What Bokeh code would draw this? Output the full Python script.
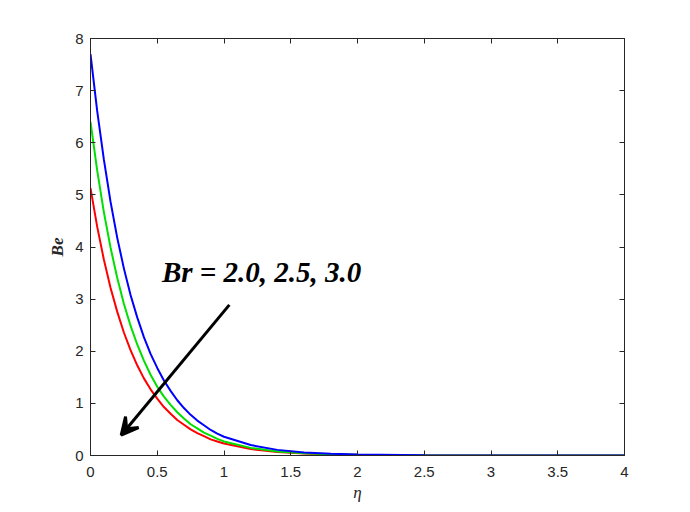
from bokeh.plotting import figure
from bokeh.models import Range1d, LinearAxis, FixedTicker, Arrow, VeeHead, Label
from bokeh.embed import file_html
from bokeh.resources import INLINE

# eta grid and Bejan number curves
eta = [0, 0.05, 0.1, 0.15, 0.2, 0.25, 0.3, 0.35, 0.4, 0.45, 0.5, 0.55, 0.6, 0.65,
       0.7, 0.75, 0.8, 0.85, 0.9, 0.95, 1.0, 1.2, 1.4, 1.6, 1.8, 2.0, 2.5, 3.0, 3.5, 4.0]
be_br20 = [5.13, 4.39, 3.76, 3.22, 2.76, 2.36, 2.02, 1.73, 1.48, 1.27, 1.09, 0.93, 0.80, 0.68,
           0.59, 0.50, 0.43, 0.37, 0.31, 0.27, 0.23, 0.124, 0.067, 0.036, 0.019, 0.010, 0.002, 0.0005, 0.0001, 0.0]
be_br25 = [6.40, 5.47, 4.67, 3.99, 3.41, 2.91, 2.49, 2.13, 1.82, 1.55, 1.32, 1.13, 0.97, 0.83,
           0.71, 0.60, 0.52, 0.44, 0.38, 0.32, 0.27, 0.146, 0.078, 0.041, 0.022, 0.012, 0.0025, 0.0005, 0.0001, 0.0]
be_br30 = [7.70, 6.61, 5.68, 4.87, 4.18, 3.59, 3.08, 2.65, 2.27, 1.95, 1.68, 1.44, 1.24, 1.06,
           0.91, 0.78, 0.67, 0.58, 0.49, 0.42, 0.36, 0.20, 0.108, 0.059, 0.032, 0.017, 0.004, 0.001, 0.0003, 0.0001]

x_ticks = [0, 0.5, 1, 1.5, 2, 2.5, 3, 3.5, 4]
x_tick_labels = ["0", "0.5", "1", "1.5", "2", "2.5", "3", "3.5", "4"]
y_ticks = [0, 1, 2, 3, 4, 5, 6, 7, 8]

annotation = "Br = 2.0, 2.5, 3.0"
arrow_from = (1.04, 2.89)
arrow_to = (0.23, 0.39)

axis_color = "#262626"

p = figure(width=682, height=504, output_backend="svg", toolbar_location=None,
           x_range=Range1d(0, 4), y_range=Range1d(0, 8))
p.min_border_left = 90
p.min_border_right = 58
p.min_border_top = 38
p.min_border_bottom = 49
p.background_fill_color = "white"
p.border_fill_color = "white"
p.xgrid.visible = False
p.ygrid.visible = False
p.outline_line_color = axis_color
p.outline_line_width = 1

# curves
p.line(eta, be_br20, line_color="#ff0000", line_width=2)
p.line(eta, be_br25, line_color="#00e000", line_width=2)
p.line(eta, be_br30, line_color="#0000ff", line_width=2)

# axes, matlab style (ticks inside)
def style_axis(ax, ticks, show_labels):
    ax.ticker = FixedTicker(ticks=ticks)
    ax.minor_tick_line_color = None
    ax.major_tick_in = 5
    ax.major_tick_out = 0
    ax.axis_line_color = axis_color
    ax.major_tick_line_color = axis_color
    ax.major_label_text_color = axis_color
    ax.major_label_text_font = "Liberation Sans"
    ax.major_label_text_font_size = "15px"
    if not show_labels:
        ax.major_label_text_color = None
        ax.major_label_text_font_size = "0px"
        ax.major_label_standoff = 0

style_axis(p.xaxis[0], x_ticks, True)
style_axis(p.yaxis[0], y_ticks, True)
p.xaxis[0].major_label_overrides = {t: s for t, s in zip(x_ticks, x_tick_labels)}
p.xaxis[0].major_label_standoff = 11
p.yaxis[0].major_label_standoff = 7

p.xaxis[0].axis_label = "η"
p.xaxis[0].axis_label_text_font = "Liberation Serif"
p.xaxis[0].axis_label_text_font_style = "italic"
p.xaxis[0].axis_label_text_font_size = "17px"
p.xaxis[0].axis_label_text_color = axis_color
p.xaxis[0].axis_label_standoff = 3

p.yaxis[0].axis_label = "Be"
p.yaxis[0].axis_label_text_font = "Liberation Serif"
p.yaxis[0].axis_label_text_font_style = "bold italic"
p.yaxis[0].axis_label_text_font_size = "17px"
p.yaxis[0].axis_label_text_color = axis_color
p.yaxis[0].axis_label_standoff = 5

top_axis = LinearAxis()
style_axis(top_axis, x_ticks, False)
p.add_layout(top_axis, "above")
right_axis = LinearAxis()
style_axis(right_axis, y_ticks, False)
p.add_layout(right_axis, "right")

# annotation arrow and text
p.add_layout(Arrow(end=VeeHead(size=17, line_color="black", line_width=3, fill_color="black"),
                   x_start=arrow_from[0], y_start=arrow_from[1],
                   x_end=arrow_to[0], y_end=arrow_to[1],
                   line_color="black", line_width=3))
p.add_layout(Label(x=0.535, y=3.21, text=annotation, text_font="Liberation Serif",
                   text_font_style="bold italic", text_font_size="29px", text_color="black"))

open("out.html", "w").write(file_html(p, INLINE))
